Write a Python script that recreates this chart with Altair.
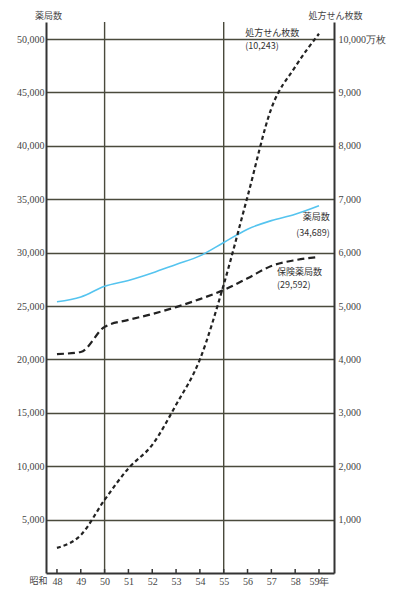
import altair as alt
import pandas as pd

years = [48, 49, 50, 51, 52, 53, 54, 55, 56, 57, 58, 59]
pharmacies = [25400, 25850, 26850, 27400, 28100, 28900, 29700, 30950, 32200, 33000, 33600, 34400]
insurance = [20500, 20700, 23050, 23700, 24250, 24900, 25650, 26500, 27600, 28750, 29300, 29592]
prescriptions = [470, 710, 1370, 1960, 2400, 3150, 4000, 5400, 7050, 8700, 9480, 10100]

left_ticks = [5000, 10000, 15000, 20000, 25000, 30000, 35000, 40000, 45000, 50000]
right_ticks = [1000, 2000, 3000, 4000, 5000, 6000, 7000, 8000, 9000, 10000]
vgrid_years = [50, 55]

ann_text = ["処方せん枚数", "(10,243)", "薬局数", "(34,689)", "保険薬局数", "(29,592)"]
ann_year = [55.9, 55.9, 59.45, 59.45, 57.24, 57.24]
ann_val = [50560, 49340, 33330, 31830, 28180, 26970]
ann_align = ["left", "left", "right", "right", "left", "left"]

W, H = 288, 551
FONT = "Liberation Serif"
GRID = "#4a4a3c"
TXT = "#444444"

df = pd.DataFrame({"year": years, "pharm": pharmacies, "ins": insurance, "presc": prescriptions})
vdf = pd.DataFrame({"year": vgrid_years})
ann = pd.DataFrame({"year": ann_year, "val": ann_val, "text": ann_text, "align": ann_align})
showa = pd.DataFrame({"year": [47.6], "val": [0], "text": ["昭和"]})

xscale = alt.Scale(domain=[47.54, 59.63], nice=False, zero=False)
xaxis = alt.Axis(values=years, title=None, tickSize=0, grid=False, labelPadding=3,
                 format="d", domainColor="#333333", domainWidth=2,
                 labelExpr="datum.value == 59 ? '59年' : datum.label")


def X(field="year"):
    return alt.X(f"{field}:Q", scale=xscale, axis=xaxis)


lscale = alt.Scale(domain=[0, 51600], nice=False, zero=True)
laxis = alt.Axis(values=left_ticks, format=",d", grid=True, gridColor=GRID, gridWidth=1.3,
                 tickSize=0, labelPadding=2, domainColor="#333333", domainWidth=2,
                 title="薬局数", titleAngle=0, titleX=2, titleY=-2, titleAlign="center",
                 titleBaseline="bottom")


def YL(field):
    return alt.Y(f"{field}:Q", scale=lscale, axis=laxis)


blue = alt.Chart(df).mark_line(color="#55c4ef", strokeWidth=1.6, interpolate="monotone").encode(
    x=X(), y=YL("pharm"))
ins = alt.Chart(df).mark_line(color="#222222", strokeWidth=2.2, strokeDash=[7, 4],
                              interpolate="monotone").encode(x=X(), y=YL("ins"))
vrules = alt.Chart(vdf).mark_rule(color=GRID, strokeWidth=1.4).encode(x=X())
ticks = alt.Chart(df).mark_rule(color="#333333", strokeWidth=1.5).encode(
    x=X(), y=alt.value(H - 4), y2=alt.value(H))
texts_l = alt.Chart(ann[ann["align"] == "left"]).mark_text(
    font="Noto Sans CJK JP", fontSize=9, color="#333333", baseline="middle", align="left").encode(
    x=X(), y=YL("val"), text="text:N")
texts_r = alt.Chart(ann[ann["align"] == "right"]).mark_text(
    font="Noto Sans CJK JP", fontSize=9, color="#333333", baseline="middle", align="right").encode(
    x=X(), y=YL("val"), text="text:N")
showa_t = alt.Chart(showa).mark_text(font="Noto Sans CJK JP", fontSize=9, color=TXT,
                                     baseline="top", align="right", dy=4).encode(
    x=X(), y=YL("val"), text="text:N")

left = alt.layer(vrules, ticks, blue, ins, texts_l, texts_r, showa_t)

rscale = alt.Scale(domain=[0, 10320], nice=False, zero=True)
raxis = alt.Axis(orient="right", values=right_ticks, grid=False, tickSize=0, labelPadding=4,
                 domainColor="#333333", domainWidth=2,
                 labelExpr="datum.value == 10000 ? '10,000万枚' : format(datum.value, ',d')",
                 title="処方せん枚数", titleAngle=0, titleX=1, titleY=-2, titleAlign="center",
                 titleBaseline="bottom")
presc = alt.Chart(df).mark_line(color="#222222", strokeWidth=2.2, strokeDash=[4, 3],
                                interpolate="monotone").encode(
    x=X(), y=alt.Y("presc:Q", scale=rscale, axis=raxis))

chart = alt.layer(left, presc).resolve_scale(y="independent").properties(
    width=W, height=H, autosize=alt.AutoSizeParams(type="none"),
    padding={"left": 38, "top": 14, "right": 52, "bottom": 18},
    background="white"
).configure_view(stroke=None).configure_axis(
    labelFont=FONT, labelFontSize=10, labelColor=TXT,
    titleFont="Noto Sans CJK JP", titleFontSize=9, titleFontWeight="normal", titleColor=TXT
)

chart.save("out.html", embed_options={"renderer": "svg", "actions": False})
